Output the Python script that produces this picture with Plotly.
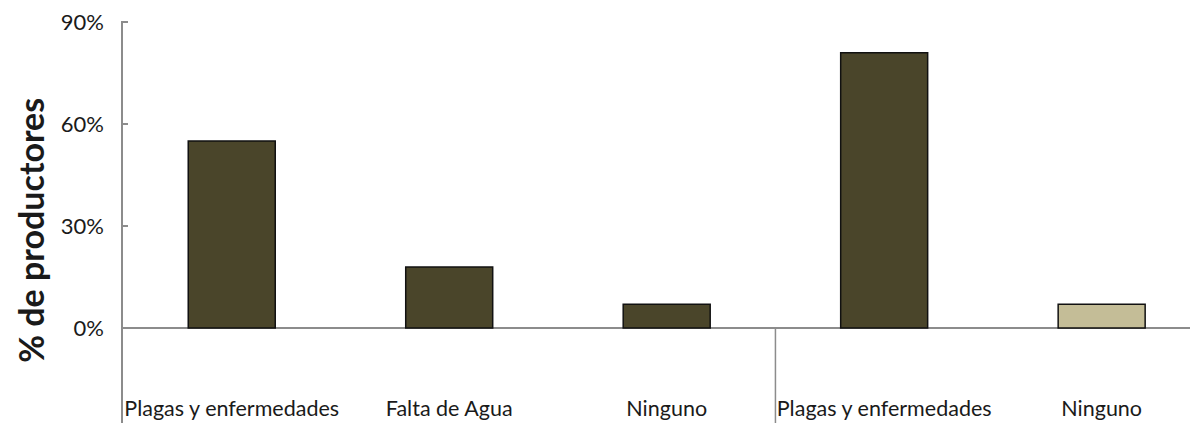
import plotly.graph_objects as go

categories = ["Plagas y enfermedades", "Falta de Agua", "Ninguno", "Plagas y enfermedades ", "Ninguno "]
values = [55, 18, 7, 81, 7]
bar_colors = ["#4A452A", "#4A452A", "#4A452A", "#4A452A", "#C4BD97"]
y_tickvals = [0, 30, 60, 90]
y_ticktext = ["0%", "30%", "60%", "90%"]
y_title = "% de productores"

axis_gray = "#8C8C8C"
font_family = "Lato, 'Liberation Sans', sans-serif"

fig = go.Figure()
fig.add_trace(go.Bar(
    x=list(range(len(categories))),
    y=values,
    marker=dict(color=bar_colors, line=dict(color="#111111", width=1.5)),
    width=0.4,
    showlegend=False,
    hoverinfo="skip",
))

# the page body has an 8px default margin, so the figure is sized to fit
ymin, ymax = -27.9, 90.3
fig.update_layout(
    width=1190, height=415,
    margin=dict(l=115, r=0, t=13, b=0, autoexpand=False),
    paper_bgcolor="white", plot_bgcolor="white",
    font=dict(family=font_family, color="#1a1a1a", size=20),
    xaxis=dict(
        range=[-0.5, 4.443],
        tickmode="array",
        tickvals=list(range(len(categories))),
        ticktext=[c.strip() for c in categories],
        ticklabelposition="inside",
        ticklabeloverflow="allow",
        ticks="",
        showline=False,
        showgrid=False,
        zeroline=False,
        automargin=False,
        tickfont=dict(size=21.5, family=font_family, color="#1a1a1a"),
        fixedrange=True,
    ),
    yaxis=dict(
        range=[ymin, ymax],
        tickmode="array",
        tickvals=y_tickvals,
        ticktext=y_ticktext,
        ticks="inside",
        ticklen=5,
        tickcolor=axis_gray,
        tickwidth=1.5,
        showline=True,
        linecolor=axis_gray,
        linewidth=1.5,
        showgrid=False,
        zeroline=True,
        zerolinecolor=axis_gray,
        zerolinewidth=1.5,
        automargin=False,
        ticklabeloverflow="allow",
        ticklabelstandoff=13,
        tickfont=dict(size=22, family=font_family, color="#1a1a1a"),
        fixedrange=True,
    ),
)

# group separator below the zero line
fig.add_shape(type="line", xref="x", yref="y", x0=2.5, x1=2.5, y0=ymin, y1=0,
              line=dict(color=axis_gray, width=1.5), layer="below")

fig.add_annotation(
    text="<b>" + y_title + "</b>",
    xref="paper", yref="paper", x=0, y=0.478,
    xanchor="center", yanchor="middle",
    xshift=-92, textangle=-90, showarrow=False,
    font=dict(size=34, family=font_family, color="#1a1a1a"),
)

fig.write_html("out.html")
